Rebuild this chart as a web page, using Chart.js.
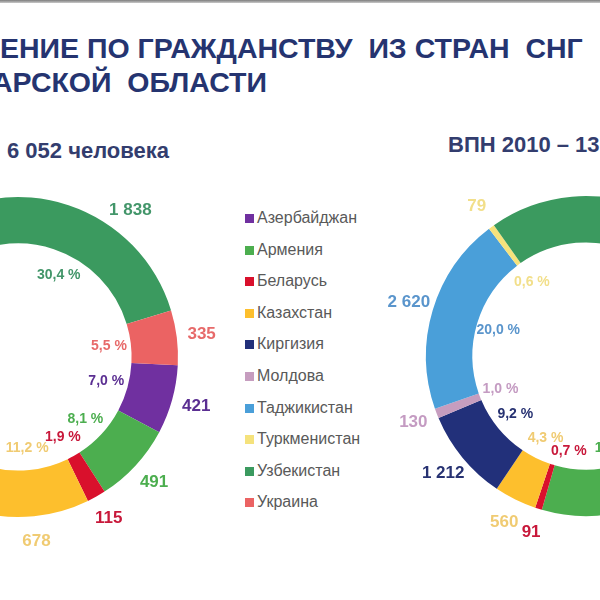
<!DOCTYPE html>
<html>
<head>
<meta charset="utf-8">
<script src="https://cdn.jsdelivr.net/npm/chart.js@4.4.0/dist/chart.umd.min.js"></script>
<style>
  html, body { margin: 0; padding: 0; width: 600px; height: 600px; overflow: hidden; background: #fff; }
  body { position: relative; font-family: "Liberation Sans", Arial, sans-serif; }
  .topbar { position: absolute; left: 0; top: 0; width: 600px; height: 3px; background: linear-gradient(#7d7d7d, #c9c9c9); }
  .title { position: absolute; color: #253470; font-weight: bold; font-size: 28.5px; line-height: 30px; white-space: pre; }
  .sub { position: absolute; color: #333d6e; font-weight: bold; font-size: 22px; line-height: 24px; white-space: pre; }
  canvas { position: absolute; }
  #legend { position: absolute; left: 245px; top: 202px; }
  .item { height: 31.6px; line-height: 31.6px; font-size: 16px; color: #595959; white-space: nowrap; }
  .box { display: inline-block; width: 9px; height: 9px; margin-right: 3px; vertical-align: 0px; }
</style>
</head>
<body>
<div class="topbar"></div>
<div class="title" style="left:0; top:33px">ЕНИЕ ПО ГРАЖДАНСТВУ  ИЗ СТРАН  СНГ</div>
<div class="title" style="left:-8px; top:67px">АРСКОЙ  ОБЛАСТИ</div>
<div class="sub" style="left:7px; top:139px">6 052 человека</div>
<div class="sub" style="left:448px; top:133px">ВПН 2010 – 13</div>

<canvas id="left" width="440" height="440" style="left:-202px; top:137px"></canvas>
<canvas id="right" width="440" height="440" style="left:366px; top:136px"></canvas>
<div id="legend"></div>

<script>
// countries in data order (clockwise)
const countries = ['Азербайджан', 'Армения', 'Беларусь', 'Казахстан', 'Киргизия', 'Молдова', 'Таджикистан', 'Туркменистан', 'Узбекистан', 'Украина'];
// left ring: 6 052 people (hidden slices estimated)
const people = [421, 491, 115, 678, 700, 250, 1100, 124, 1838, 335];
// right ring: census 2010 (hidden slices estimated)
const census2010 = [900, 2360, 91, 560, 1212, 130, 2620, 79, 4380, 778];

const colors = ['#7030a0', '#4cae4f', '#d9102c', '#fdbf2d', '#22307a', '#c69dbf', '#4a9fd9', '#f5e27c', '#3b9a5f', '#eb6363'];
const labelColors = ['#5b2f92', '#4cae4f', '#c8183a', '#f0cb72', '#273272', '#c49bc2', '#5a95cc', '#f2df8a', '#43966a', '#e76a6a'];

function fmt(v) {
    return String(v).replace(/\B(?=(\d{3})+(?!\d))/g, ' ');
}

// value outside the ring, percent inside the hole
// nudge: index -> [value angle deg, percent angle deg, percent radius px]
const sliceLabels = {
    id: 'sliceLabels',
    afterDatasetsDraw(chart, args, opts) {
        const ctx = chart.ctx;
        const data = chart.data.datasets[0].data;
        const total = data.reduce((a, b) => a + b, 0);
        const meta = chart.getDatasetMeta(0);
        ctx.save();
        ctx.textAlign = 'center';
        ctx.textBaseline = 'middle';
        meta.data.forEach((arc, i) => {
            const p = arc.getProps(['x', 'y', 'startAngle', 'endAngle', 'outerRadius', 'innerRadius'], true);
            const mid = (p.startAngle + p.endAngle) / 2;
            const n = (opts.nudge && opts.nudge[i]) || [0, 0, 0];
            const a1 = mid + n[0] * Math.PI / 180;
            const a2 = mid + n[1] * Math.PI / 180;
            ctx.fillStyle = labelColors[i];

            ctx.font = 'bold 17px "Liberation Sans", Arial';
            const r1 = p.outerRadius + 25;
            ctx.fillText(fmt(data[i]), p.x + Math.cos(a1) * r1, p.y + Math.sin(a1) * r1);

            ctx.font = 'bold 14px "Liberation Sans", Arial';
            const r2 = p.innerRadius - 22 + (n[2] || 0);
            const pct = (data[i] / total * 100).toFixed(1).replace('.', ',') + ' %';
            ctx.fillText(pct, p.x + Math.cos(a2) * r2, p.y + Math.sin(a2) * r2);
        });
        ctx.restore();
    }
};

function ring(id, values, rotation, nudge) {
    return new Chart(id, {
        type: 'doughnut',
        data: {
            labels: countries,
            datasets: [{
                data: values,
                backgroundColor: colors,
                borderWidth: 0
            }]
        },
        options: {
            responsive: false,
            animation: false,
            rotation: rotation,
            cutout: '71%',
            layout: { padding: 60 },
            plugins: {
                legend: { display: false },
                tooltip: { enabled: false },
                sliceLabels: { nudge: nudge }
            }
        },
        plugins: [sliceLabels]
    });
}

ring('left', people, 93, { 8: [19, 8, 0] });
ring('right', census2010, 106.5, { 1: [0, -2, 5], 2: [0, -7, 5] });

// legend in the middle
const legend = document.getElementById('legend');
countries.forEach((c, i) => {
    const row = document.createElement('div');
    row.className = 'item';
    row.innerHTML = '<span class="box" style="background:' + colors[i] + '"></span>' + c;
    legend.appendChild(row);
});
</script>
</body>
</html>
